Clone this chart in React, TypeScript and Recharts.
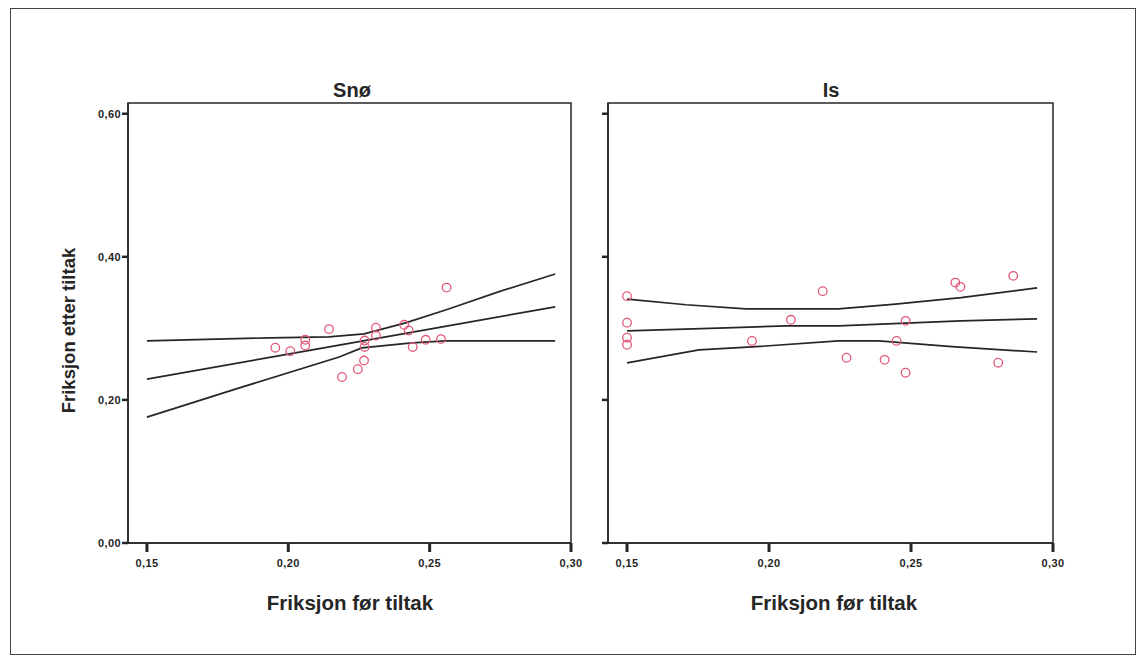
import { ReferenceArea, Scatter, ScatterChart, XAxis, YAxis } from "recharts";

type Pt = [number, number];

const xTicks = [0.15, 0.2, 0.25, 0.3];
const yTicks = [0, 0.2, 0.4, 0.6];

// Snø panel
const snoPoints: Pt[] = [
  [0.1954, 0.273], [0.2007, 0.268], [0.206, 0.276], [0.206, 0.284],
  [0.2144, 0.299], [0.219, 0.232], [0.2246, 0.243], [0.2268, 0.255],
  [0.227, 0.274], [0.227, 0.283], [0.231, 0.301], [0.231, 0.29],
  [0.241, 0.305], [0.2426, 0.297], [0.244, 0.274], [0.2486, 0.284],
  [0.254, 0.285], [0.256, 0.357],
];
const snoFit: Pt[] = [[0.15, 0.229], [0.2, 0.264], [0.25, 0.299], [0.2944, 0.33]];
const snoUpper: Pt[] = [
  [0.15, 0.2825], [0.1933, 0.2867], [0.2144, 0.288], [0.2268, 0.2923],
  [0.2415, 0.3077], [0.2567, 0.327], [0.2743, 0.351], [0.2944, 0.376],
];
const snoLower: Pt[] = [
  [0.15, 0.176], [0.1827, 0.2168], [0.218, 0.26], [0.226, 0.2727],
  [0.2437, 0.2797], [0.2556, 0.2825], [0.2944, 0.2825],
];

// Is panel
const isPoints: Pt[] = [
  [0.15, 0.345], [0.15, 0.308], [0.15, 0.287], [0.15, 0.277],
  [0.194, 0.2825], [0.2077, 0.312], [0.2189, 0.352], [0.2273, 0.259],
  [0.2407, 0.256], [0.2449, 0.2825], [0.2481, 0.3105], [0.2481, 0.238],
  [0.2656, 0.364], [0.2674, 0.358], [0.286, 0.3734], [0.2807, 0.252],
];
const isFit: Pt[] = [
  [0.15, 0.2965], [0.1849, 0.3007], [0.2059, 0.3035], [0.2245, 0.3035],
  [0.2676, 0.3105], [0.2944, 0.3133],
];
const isUpper: Pt[] = [
  [0.15, 0.341], [0.1708, 0.333], [0.1919, 0.3273], [0.2245, 0.3273],
  [0.2445, 0.334], [0.2676, 0.343], [0.2944, 0.3566],
];
const isLower: Pt[] = [
  [0.15, 0.2517], [0.1753, 0.27], [0.194, 0.274], [0.2245, 0.2825],
  [0.2386, 0.2825], [0.2656, 0.274], [0.2944, 0.267],
];

const X_DOMAIN: [number, number] = [0.1433, 0.3];
const Y_DOMAIN: [number, number] = [0, 0.615];
const INK = "#262626";
const FONT = "'Liberation Sans', Arial, sans-serif";

const fmt = (v: number) => v.toFixed(2).replace(".", ",");
const toXY = (arr: Pt[]) => arr.map(([x, y]) => ({ x, y }));
const noDot = () => <g />;

interface PanelProps {
  left: number;
  width: number;
  yAxisWidth: number;
  rightMargin: number;
  showYLabels: boolean;
  points: Pt[];
  fit: Pt[];
  upper: Pt[];
  lower: Pt[];
}

function Panel(p: PanelProps) {
  const tickStyle = { fill: INK, fontSize: 11, fontWeight: 700, fontFamily: FONT, letterSpacing: 0.4 };
  const lineStyle = { stroke: INK, strokeWidth: 1.7 };
  return (
    <div style={{ position: "absolute", left: p.left, top: 70 }}>
      <ScatterChart
        width={p.width}
        height={520}
        margin={{ top: 33, right: p.rightMargin, bottom: 0, left: 0 }}
      >
        <XAxis
          type="number"
          dataKey="x"
          domain={X_DOMAIN}
          ticks={xTicks}
          allowDataOverflow
          tickFormatter={fmt}
          height={47}
          tickSize={9}
          tickMargin={7}
          tick={tickStyle}
          axisLine={{ stroke: INK, strokeWidth: 1.5 }}
          tickLine={{ stroke: INK, strokeWidth: 3 }}
        />
        <YAxis
          type="number"
          dataKey="y"
          domain={Y_DOMAIN}
          ticks={yTicks}
          allowDataOverflow
          tickFormatter={p.showYLabels ? fmt : () => ""}
          width={p.yAxisWidth}
          tickSize={6}
          tickMargin={1}
          tick={tickStyle}
          axisLine={{ stroke: INK, strokeWidth: 1.5 }}
          tickLine={{ stroke: INK, strokeWidth: 2.5 }}
        />
        <ReferenceArea
          x1={X_DOMAIN[0]}
          x2={X_DOMAIN[1]}
          y1={Y_DOMAIN[0]}
          y2={Y_DOMAIN[1]}
          fill="none"
          stroke={INK}
          strokeWidth={1.5}
        />
        <Scatter data={toXY(p.upper)} line={lineStyle} lineType="joint" shape={noDot} isAnimationActive={false} />
        <Scatter data={toXY(p.fit)} line={lineStyle} lineType="joint" shape={noDot} isAnimationActive={false} />
        <Scatter data={toXY(p.lower)} line={lineStyle} lineType="joint" shape={noDot} isAnimationActive={false} />
        <Scatter
          data={toXY(p.points)}
          shape={(props: any) => (
            <circle cx={props.cx} cy={props.cy} r={4.3} fill="none" stroke="#e05a78" strokeWidth={1.3} />
          )}
          isAnimationActive={false}
        />
      </ScatterChart>
    </div>
  );
}

const titleStyle: React.CSSProperties = {
  position: "absolute",
  fontFamily: FONT,
  fontWeight: 700,
  color: INK,
  textAlign: "center",
  whiteSpace: "nowrap",
};

export default function App() {
  return (
    <div style={{ position: "absolute", left: 0, top: 0, width: 1141, height: 660, background: "#fff" }}>
      <div
        style={{
          position: "absolute",
          left: 10,
          top: 8,
          width: 1124,
          height: 645,
          border: "1.5px solid #444",
        }}
      />
      <Panel
        left={40}
        width={560}
        yAxisWidth={88}
        rightMargin={29}
        showYLabels
        points={snoPoints}
        fit={snoFit}
        upper={snoUpper}
        lower={snoLower}
      />
      <Panel
        left={570}
        width={510}
        yAxisWidth={38}
        rightMargin={27}
        showYLabels={false}
        points={isPoints}
        fit={isFit}
        upper={isUpper}
        lower={isLower}
      />
      <div style={{ ...titleStyle, left: 252, width: 200, top: 79, fontSize: 20, lineHeight: "23px" }}>Snø</div>
      <div style={{ ...titleStyle, left: 731, width: 200, top: 79, fontSize: 20, lineHeight: "23px" }}>Is</div>
      <div style={{ ...titleStyle, left: 200, width: 300, top: 591, fontSize: 20.5, lineHeight: "23px" }}>
        Friksjon før tiltak
      </div>
      <div style={{ ...titleStyle, left: 684, width: 300, top: 591, fontSize: 20.5, lineHeight: "23px" }}>
        Friksjon før tiltak
      </div>
      <div
        style={{
          ...titleStyle,
          left: -52,
          width: 240,
          top: 320,
          height: 21,
          fontSize: 18.5,
          lineHeight: "21px",
          transform: "rotate(-90deg)",
        }}
      >
        Friksjon etter tiltak
      </div>
    </div>
  );
}
